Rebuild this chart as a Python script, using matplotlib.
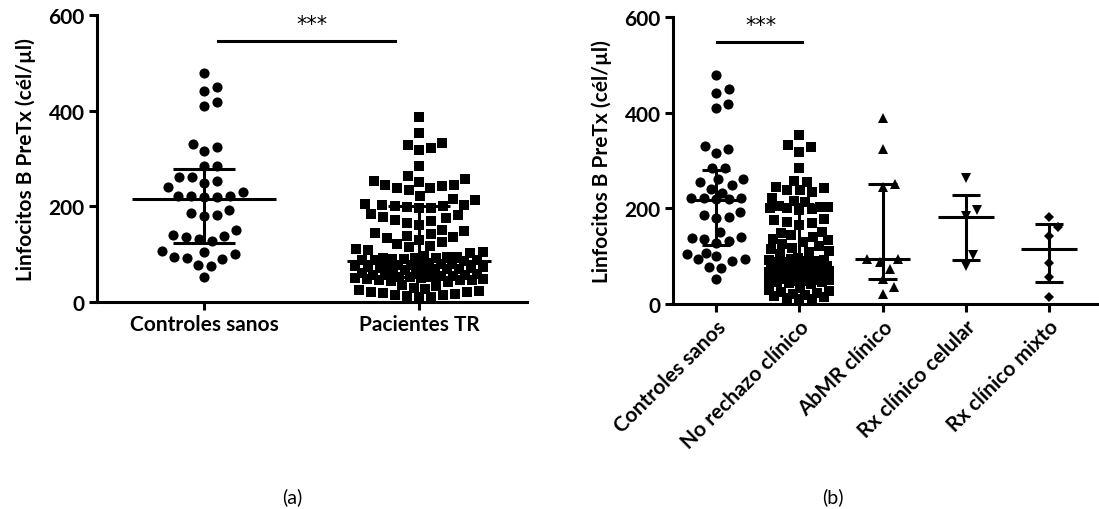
import numpy as np
import matplotlib
matplotlib.use("Agg")
import matplotlib.pyplot as plt

plt.rcParams['font.family'] = ['Lato', 'DejaVu Sans']

# ---- data ----
controles = [478, 449, 442, 419, 410, 330, 325, 316, 285, 284, 262, 261, 254, 249,
             240, 231, 222, 222, 221, 220, 219, 193, 187, 181, 180, 151, 140, 138,
             135, 132, 127, 106, 105, 100, 95, 93, 90, 78, 76, 52]

pacientes_tr = [386, 353, 332, 329, 321, 318, 284,
                263, 257, 254, 251,
                245, 245, 242, 238, 238, 234,
                222, 215, 213,
                205, 203, 202, 200, 200, 199, 197, 197,
                183, 181, 177, 175, 172, 170, 165, 160,
                151, 148, 144, 143, 139, 136, 134, 130,
                125, 121, 118, 114, 111, 109, 104, 102,
                96, 95, 94, 93, 92, 91, 90, 89, 88, 88, 87, 85,
                82, 80, 80, 79, 78, 77, 76, 75, 74, 73, 72, 71, 70, 69, 68, 67, 66, 65,
                62, 60, 58, 57, 56, 56, 55, 54, 53, 52, 52, 51, 50, 49, 48, 47, 46, 45, 44, 42,
                35, 33, 30, 27, 25, 22, 21, 20, 18, 16, 15, 14, 12, 11, 10]

no_rechazo = [353, 332, 329, 318, 284,
              257, 254,
              245, 242, 238, 238, 234,
              222, 215, 213,
              205, 203, 202, 200, 200, 199, 197,
              177, 175, 172, 170, 165,
              151, 148, 144, 139, 136, 134, 130,
              125, 121, 118, 114, 111, 109, 104,
              96, 93, 92, 91, 90, 89, 88, 87,
              82, 80, 79, 78, 77, 76, 75, 74, 72, 71, 70, 69, 68, 67, 66, 65,
              62, 60, 58, 57, 56, 55, 54, 53, 52, 51, 50, 49, 48, 47, 46, 45, 44, 42,
              33, 30, 27, 25, 22, 20, 18, 16, 14, 12, 11, 10]

abmr = [388, 324, 251, 245, 95, 94, 88, 73, 52, 35, 21]
celular = [263, 197, 183, 102, 80]
mixto = [181, 160, 143, 85, 56, 15]

# summary lines: centre, lower, upper
labels_a = ['Controles sanos', 'Pacientes TR']
center_a = [216, 85]
low_a = [123, 52]
high_a = [278, 201]

labels_b = ['Controles sanos', 'No rechazo clínico', 'AbMR clínico',
            'Rx clínico celular', 'Rx clínico mixto']
center_b = [218, 88, 95, 181, 115]
low_b = [123, 56, 52, 91, 47]
high_b = [280, 208, 250, 228, 167]

PX_PER_VAL = 287 / 600.0


def swarm(values, spacing, limit):
    """beeswarm offsets in pixels"""
    vals = np.asarray(values, float) * PX_PER_VAL
    order = np.argsort(vals)
    steps = np.arange(0.0, limit + 0.01, 0.5)
    cands = np.empty(2 * len(steps) - 1)
    cands[0] = 0
    cands[1::2] = steps[1:]
    cands[2::2] = -steps[1:]
    px, py = [], []
    off = np.zeros(len(vals))
    for i in order:
        y = vals[i]
        if px:
            dx = cands[:, None] - np.array(px)[None, :]
            dy = y - np.array(py)[None, :]
            d = np.sqrt(dx ** 2 + dy ** 2).min(axis=1)
            ok = np.where(d >= spacing)[0]
            c = cands[ok[0]] if len(ok) else cands[np.argmax(d)]
        else:
            c = 0.0
        off[i] = c
        px.append(c)
        py.append(y)
    return off


fig = plt.figure(figsize=(10.99, 5.10), dpi=100)
ax1 = fig.add_axes([0.0883, 0.4059, 0.3913, 0.5627])
ax2 = fig.add_axes([0.6124, 0.4020, 0.3858, 0.5627])

LW = 2.2
FS = 15


def style(ax):
    for s in ['top', 'right']:
        ax.spines[s].set_visible(False)
    for s in ['left', 'bottom']:
        ax.spines[s].set_linewidth(LW)
    ax.tick_params(width=LW, length=6, labelsize=FS, pad=3)
    ax.set_ylim(0, 600)
    ax.set_yticks([0, 200, 400, 600])
    for t in ax.get_yticklabels():
        t.set_fontweight('bold')
    ax.set_ylabel('Linfocitos B PreTx (cél/µl)', fontsize=FS, fontweight='bold', labelpad=9)


def draw_group(ax, x, vals, marker, ms, ppu, spacing, limit, c, lo, hi, wmain, wcap):
    off = swarm(vals, spacing, limit) / ppu
    ax.plot(x + off, vals, linestyle='none', marker=marker, ms=ms, color='black',
            markeredgewidth=0, zorder=3)
    ax.hlines(c, x - wmain, x + wmain, color='black', lw=LW, zorder=4)
    ax.hlines([lo, hi], x - wcap, x + wcap, color='black', lw=LW, zorder=4)
    ax.vlines(x, lo, hi, color='black', lw=LW, zorder=4)


# ---- panel (a) ----
style(ax1)
ax1.set_xlim(-0.498, 1.502)
draw_group(ax1, 0, controles, 'o', 7.3, 215, 13, 45, center_a[0], low_a[0], high_a[0], 0.335, 0.145)
draw_group(ax1, 1, pacientes_tr, 's', 6.8, 215, 12, 64, center_a[1], low_a[1], high_a[1], 0.335, 0.145)
ax1.set_xticks([0, 1])
ax1.set_xticklabels(labels_a, fontweight='bold')
ax1.plot([0.065, 0.888], [546, 546], color='black', lw=LW, clip_on=False)
ax1.text(0.502, 560, '***', ha='center', va='bottom', fontsize=15,
         family='DejaVu Sans')
fig.text(0.266, 0.008, '(a)', ha='center', va='bottom', fontsize=14)

# ---- panel (b) ----
style(ax2)
ax2.set_xlim(-0.52, 4.58)
groups_b = [controles, no_rechazo, abmr, celular, mixto]
markers_b = ['o', 's', '^', 'v', 'D']
sizes_b = [7.3, 6.8, 6.5, 6.5, 5.0]
for i in range(5):
    draw_group(ax2, i, groups_b[i], markers_b[i], sizes_b[i], 83.25, 12.5, 30,
               center_b[i], low_b[i], high_b[i], 0.336, 0.17)
ax2.set_xticks(range(5))
ax2.set_xticklabels(labels_b, fontweight='bold', rotation=45, ha='right',
                    rotation_mode='anchor')
ax2.plot([0.01, 1.03], [548, 548], color='black', lw=LW, clip_on=False)
ax2.text(0.54, 562, '***', ha='center', va='bottom', fontsize=15,
         family='DejaVu Sans')
fig.text(0.758, 0.008, '(b)', ha='center', va='bottom', fontsize=14)

fig.savefig('out.png', dpi=100)
